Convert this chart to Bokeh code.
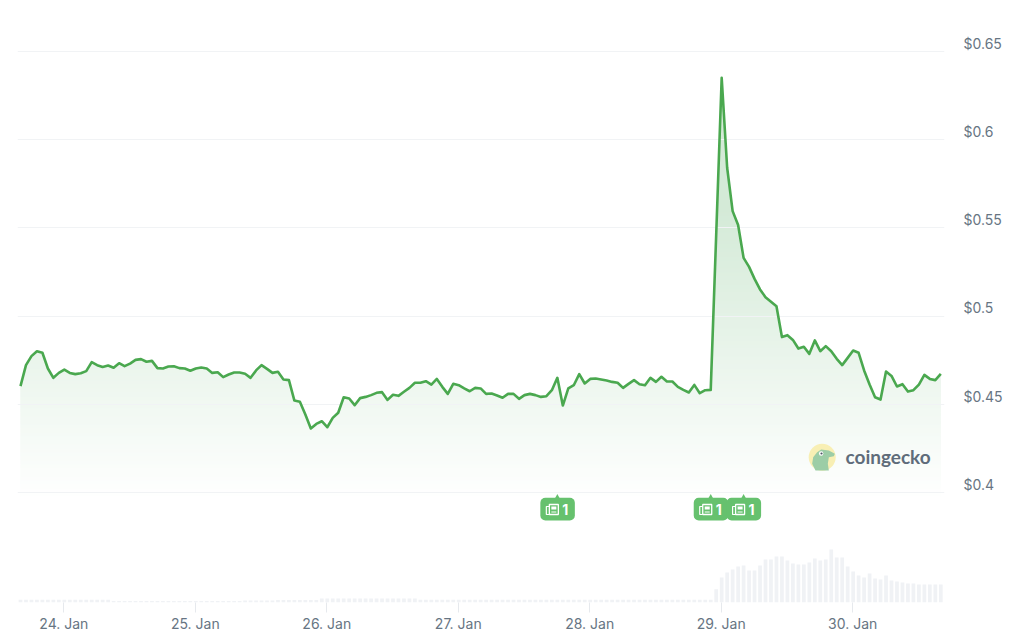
import numpy as np
import pandas as pd
from bokeh.embed import file_html
from bokeh.resources import INLINE
from bokeh.plotting import figure
from bokeh.models import Range1d, FixedTicker, DatetimeTickFormatter, LinearAxis
from bokeh.core.properties import value

prices = [
0.4603,0.4722,0.4773,0.4801,0.4792,0.4703,0.4650,0.4678,0.4697,0.4678,0.4671,0.4676,0.4688,0.4739,0.4722,0.4712,0.4720,0.4707,0.4733,0.4716,
0.4731,0.4752,0.4756,0.4741,0.4746,0.4705,0.4703,0.4714,0.4716,0.4705,0.4703,0.4690,0.4703,0.4709,0.4703,0.4678,0.4682,0.4654,0.4669,0.4680,
0.4680,0.4673,0.4650,0.4692,0.4722,0.4701,0.4678,0.4684,0.4641,0.4637,0.4521,0.4514,0.4442,0.4363,0.4389,0.4404,0.4370,0.4423,0.4452,
0.4540,0.4533,0.4495,0.4535,0.4542,0.4552,0.4565,0.4569,0.4525,0.4554,0.4548,0.4571,0.4593,0.4622,0.4622,0.4631,0.4612,0.4644,0.4599,0.4559,
0.4616,0.4608,0.4590,0.4574,0.4593,0.4590,0.4559,0.4561,0.4550,0.4537,0.4559,0.4559,0.4531,0.4552,0.4559,0.4552,0.4542,0.4546,0.4580,0.4650,
0.4493,0.4590,0.4608,0.4671,0.4618,0.4644,0.4646,0.4641,0.4635,0.4627,0.4622,0.4593,0.4616,0.4637,0.4614,0.4608,0.4650,0.4627,0.4656,0.4629,
0.4629,0.4599,0.4582,0.4567,0.4610,0.4563,
0.4580,0.4582,0.5463,0.6351,0.5841,0.5595,0.5516,0.5330,0.5279,0.5211,0.5151,0.5107,0.5081,0.5056,0.4881,0.4892,0.4865,0.4816,0.4826,0.4786,
0.4862,0.4801,0.4830,0.4801,0.4758,0.4722,0.4763,0.4805,0.4792,0.4692,0.4612,0.4540,0.4527,0.4686,0.4661,0.4601,0.4614,0.4572,0.4580,0.4612,
0.4667,0.4644,0.4637,0.4673]

volumes = [
2.7,2.7,2.7,2.7,2.7,2.7,2.7,2.7,2.7,2.7,2.7,2.7,2.7,2.7,2.7,2.7,2.7,
1.5,1.5,1.5,1.5,1.5,1.5,1.5,1.5,1.5,1.5,1.5,1.5,1.5,1.5,1.5,1.5,1.5,1.5,1.5,1.5,1.5,1.5,1.5,1.5,
2,2,2,2,2,2,2.5,2.5,2.5,2.5,2.5,2.5,2.5,2.5,
4,4,4,4,4,4,4,4,4,4,4,4,4,4,4,4,4,4,
2.7,2.7,2.7,2.7,2.7,2.7,2.7,2.7,2.7,2.7,2.7,2.7,2.7,2.7,2.7,2.7,2.7,2.7,2.7,2.7,2.7,2.7,2.7,2.7,2.7,2.7,2.7,
2.7,2.7,2.7,2.7,2.7,2.7,2.7,2.7,2.7,2.7,2.7,2.7,2.7,2.7,2.7,2.7,2.7,2.7,2.7,2.7,2.7,2.7,2.7,2.7,2.7,2.7,2.7,
13.3,25,30,33,36,37,32,32,37,43,43,46,46,42,39,38,38,40,44,42,43,53,45,45,36,31,27,25,29,24,23,27,22,21,20,19,19,18,18,18,18,18]

start_time = "2023-01-23 16:05:24"
day_ticks = ["2023-01-24","2023-01-25","2023-01-26","2023-01-27","2023-01-28","2023-01-29","2023-01-30"]
price_ticks = [0.4,0.45,0.5,0.55,0.6,0.65]
price_labels = ["$0.4","$0.45","$0.5","$0.55","$0.6","$0.65"]
news_hours = [98,126,132]
news_counts = ["1","1","1"]
watermark = "coingecko"

LINE="#4aa84f"; GRID="#f1f3f5"; TEXT="#677583"; BADGE="#66c16e"; VOL="#f0f2f5"

times = pd.date_range(start_time, periods=len(prices), freq="h")
t_ms = times.values.astype("datetime64[ms]").astype("int64").astype(float)
HOUR = 3600000.0
PX_PER_H = 5.478
t0 = t_ms[0]
W, H = 1016, 635
FRAME_L, FRAME_R, FRAME_T, FRAME_B = 17, 944, 20, 602
PX_PER_USD = 1764.0
LABEL_SHIFT = 8.3/PX_PER_USD
def X(px): return t0 + (px-20)/PX_PER_H*HOUR
def Y(py): return 0.4 + (492-py)/PX_PER_USD

p = figure(width=W, height=H, output_backend="svg", toolbar_location=None,
           x_axis_type="datetime", y_axis_location=None,
           x_range=Range1d(X(FRAME_L), X(FRAME_R)), y_range=Range1d(Y(FRAME_B), Y(FRAME_T)),
           min_border_left=FRAME_L, min_border_right=W-FRAME_R,
           min_border_top=FRAME_T, min_border_bottom=H-FRAME_B)
p.outline_line_color=None
p.background_fill_color="#ffffff"; p.border_fill_color="#ffffff"
p.xgrid.visible=False
p.ygrid.grid_line_color=GRID; p.ygrid.grid_line_width=1
p.ygrid.ticker=FixedTicker(ticks=price_ticks)

# price axis: same scale, labels sitting above their grid lines
p.extra_y_ranges={"vol":Range1d(0,FRAME_B-FRAME_T),
                  "lab":Range1d(Y(FRAME_B)-LABEL_SHIFT,Y(FRAME_T)-LABEL_SHIFT)}
ya=LinearAxis(y_range_name="lab")
ya.ticker=FixedTicker(ticks=price_ticks)
ya.major_label_overrides=dict(zip(price_ticks,price_labels))
ya.axis_line_color=None; ya.major_tick_line_color=None; ya.minor_tick_line_color=None
ya.major_tick_out=0; ya.major_tick_in=0; ya.major_label_standoff=19
ya.major_label_text_color=TEXT; ya.major_label_text_font="Inter"
ya.major_label_text_font_size="14px"
p.add_layout(ya,"right")

xa=p.xaxis[0]
xa.ticker=FixedTicker(ticks=[float(pd.Timestamp(d).value/1e6) for d in day_ticks])
f="%d. %b"
xa.formatter=DatetimeTickFormatter(days=f,hours=f,months=f,minutes=f,hourmin=f,seconds=f,milliseconds=f,years=f)
xa.axis_line_color=None; xa.minor_tick_line_color=None
xa.major_tick_line_color="#e6e9ed"; xa.major_tick_out=10; xa.major_tick_in=0
xa.major_label_standoff=2; xa.major_label_text_color=TEXT; xa.major_label_text_font="Inter"; xa.major_label_text_font_size="14px"

# volume
p.vbar(x=t_ms,top=volumes,bottom=0,width=0.68*HOUR,y_range_name="vol",fill_color=VOL,line_color=None)

# gradient area: opaque overlapping bands painted from the top band downwards
price_arr=np.array(prices)
def crossings(level):
    a,b=price_arr[:-1],price_arr[1:]
    m=(a-level)*(b-level)<0
    return t_ms[:-1][m]+(level-a[m])/(b[m]-a[m])*HOUR
STEP=4
BOTTOM_PX=500
N=(BOTTOM_PX-78)//STEP+1
for k in range(N-1,-1,-1):
    lo=Y(BOTTOM_PX-STEP*k); hi=Y(BOTTOM_PX-STEP*(k+1))
    low_edge=lo if k==0 else Y(BOTTOM_PX-STEP*(k-1))
    t=(k+0.5)*STEP/(BOTTOM_PX-78)
    a=min(0.32*t,0.22)
    rgb=[int(round(255-(255-c)*a)) for c in (60,160,75)]
    xs=np.unique(np.concatenate([t_ms,crossings(low_edge),crossings(hi)]))
    ys=np.clip(np.interp(xs,t_ms,price_arr),low_edge,hi)
    r=p.varea(x=xs,y1=np.full_like(xs,low_edge),y2=ys,fill_color="#%02x%02x%02x"%tuple(rgb))
    r.level="image"

p.line(t_ms,prices,line_color=LINE,line_width=2.6,line_join="round")

# news badges
nt=t_ms[news_hours]
cx=20+np.array(news_hours)*PX_PER_H
p.scatter(x=nt,y=[Y(496.5)]*3,marker="triangle",size=5,fill_color=BADGE,line_color=None)
p.quad(left=[X(c-17) for c in cx],right=[X(c+17.5) for c in cx],top=[Y(497.3)]*3,bottom=[Y(520)]*3,fill_color=BADGE,line_color=None,border_radius=5)
for c,n in zip(cx,news_counts):
    p.quad(left=[X(c-8)],right=[X(c+1)],top=[Y(504)],bottom=[Y(514)],fill_color=None,line_color="#ffffff",line_width=1.3)
    p.line([X(c-8),X(c-11),X(c-11),X(c-8)],[Y(506),Y(506),Y(514),Y(514)],line_color="#ffffff",line_width=1.2)
    p.quad(left=[X(c-6)],right=[X(c-1)],top=[Y(506)],bottom=[Y(509)],fill_color="#ffffff",line_color=None)
    p.segment([X(c-6)],[Y(511.5)],[X(c-1)],[Y(511.5)],line_color="#ffffff",line_width=1)
    p.text(x=[X(c+5)],y=[Y(509)],text=[n],text_color="#ffffff",text_font=value("Inter"),text_font_style="bold",
           text_font_size="14px",text_baseline="middle",text_align="left")

# watermark
p.circle(x=[X(821.7)],y=[Y(456.7)],radius=13.5,radius_units="screen",fill_color="#f8efb4",line_color=None)
gx=[50,62,85,103,100,85,82,85,45,35,38]; gy=[50,42,45,55,62,65,85,105,105,85,65]
p.patch([X(800+a/3) for a in gx],[Y(435+b/3) for b in gy],fill_color="#9ccda6",line_color=None)
p.circle(x=[X(800+62/3)],y=[Y(435+54/3)],radius=2.2,radius_units="screen",fill_color="#ffffff",line_color=None)
p.circle(x=[X(800+63/3)],y=[Y(435+54/3)],radius=1.1,radius_units="screen",fill_color="#4a5563",line_color=None)
p.text(x=[X(845)],y=[Y(456)],text=[watermark],text_color="#5f6c7a",text_font=value("Lato"),text_font_style="bold",
       text_font_size="19px",text_baseline="middle",text_align="left")

open("out.html","w").write(file_html(p,INLINE))
